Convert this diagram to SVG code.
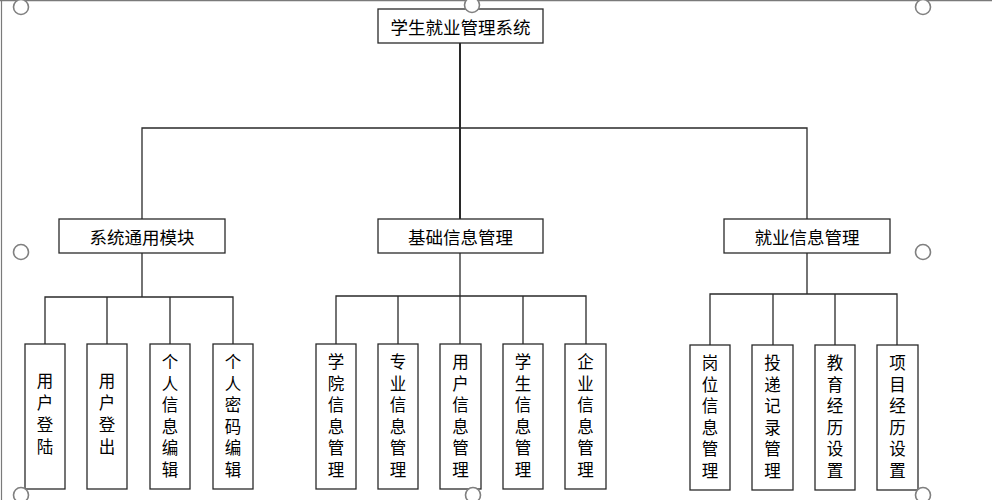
<svg xmlns="http://www.w3.org/2000/svg" width="992" height="500" viewBox="0 0 992 500">
<defs>
<style>
.box{fill:#fff;stroke:#2a2a2a;stroke-width:1.3}
.lbl{font-family:"Noto Sans CJK SC","Noto Sans",sans-serif;font-size:17.5px;fill:#000;text-anchor:middle;dominant-baseline:central}
.vl{font-family:"Noto Sans CJK SC","Noto Sans",sans-serif;font-size:16.5px;fill:#000;text-anchor:middle;dominant-baseline:central;writing-mode:vertical-rl;text-orientation:upright;letter-spacing:5px}
.v4{letter-spacing:5.5px}
.con{fill:none;stroke:#2a2a2a;stroke-width:1.3}
.handle{fill:#fff;stroke:#808080;stroke-width:1.6}
.frame{fill:none;stroke:#7a7a7a;stroke-width:1.2}
</style>
</defs>
<rect width="992" height="500" fill="#fff"/>
<g id="frame">
<line class="frame" x1="0" y1="0.6" x2="992" y2="0.6"/>
<line class="frame" x1="1.5" y1="0" x2="1.5" y2="500"/>
</g>
<g id="connectors">
<path class="con" d="M460 43 V219" style="stroke-width:1.8;stroke:#111"/>
<path class="con" d="M142 219 V128 H807 V219"/>
<path class="con" d="M142 253 V297 M45 344 V297 H233 V344 M107 297 V344 M170 297 V344"/>
<path class="con" d="M460 253 V296 M336 344 V296 H586 V344 M398 296 V344 M460 296 V344 M523 296 V344"/>
<path class="con" d="M807 253 V294 M710 345 V294 H897 V345 M773 294 V345 M835 294 V345"/>
</g>
<g id="root"><rect class="box" x="378" y="9" width="165" height="34"/><text class="lbl" x="460.5" y="26">学生就业管理系统</text></g>
<g id="m1"><rect class="box" x="59" y="219" width="166" height="34"/><text class="lbl" x="142" y="236">系统通用模块</text></g>
<g id="m2"><rect class="box" x="378" y="219" width="165" height="34"/><text class="lbl" x="460.5" y="236">基础信息管理</text></g>
<g id="m3"><rect class="box" x="724" y="219" width="166" height="34"/><text class="lbl" x="807" y="236">就业信息管理</text></g>

<g id="l1"><rect class="box" x="25" y="344" width="40" height="145"/><text class="vl v4" x="45" y="416.5">用户登陆</text></g>
<g id="l2"><rect class="box" x="87" y="344" width="40" height="145"/><text class="vl v4" x="107" y="416.5">用户登出</text></g>
<g id="l3"><rect class="box" x="150" y="344" width="40" height="145"/><text class="vl" x="170" y="418">个人信息编辑</text></g>
<g id="l4"><rect class="box" x="213" y="344" width="40" height="145"/><text class="vl" x="233" y="418">个人密码编辑</text></g>

<g id="l5"><rect class="box" x="316" y="344" width="40" height="145"/><text class="vl" x="336" y="418">学院信息管理</text></g>
<g id="l6"><rect class="box" x="378" y="344" width="40" height="145"/><text class="vl" x="398" y="418">专业信息管理</text></g>
<g id="l7"><rect class="box" x="440" y="344" width="41" height="145"/><text class="vl" x="460.5" y="418">用户信息管理</text></g>
<g id="l8"><rect class="box" x="503" y="344" width="40" height="145"/><text class="vl" x="523" y="418">学生信息管理</text></g>
<g id="l9"><rect class="box" x="565" y="344" width="41" height="145"/><text class="vl" x="585.5" y="418">企业信息管理</text></g>

<g id="l10"><rect class="box" x="690" y="345" width="40" height="145"/><text class="vl" x="710" y="419">岗位信息管理</text></g>
<g id="l11"><rect class="box" x="752" y="345" width="41" height="145"/><text class="vl" x="772.5" y="419">投递记录管理</text></g>
<g id="l12"><rect class="box" x="815" y="345" width="40" height="145"/><text class="vl" x="835" y="419">教育经历设置</text></g>
<g id="l13"><rect class="box" x="877" y="345" width="41" height="145"/><text class="vl" x="897.5" y="419">项目经历设置</text></g>

<g id="handles">
<circle class="handle" cx="21" cy="7" r="7.5"/>
<circle class="handle" cx="472" cy="5" r="7.5"/>
<circle class="handle" cx="923" cy="7" r="7.5"/>
<circle class="handle" cx="21" cy="252" r="7.5"/>
<circle class="handle" cx="923" cy="252" r="7.5"/>
<circle class="handle" cx="21" cy="495" r="7.5"/>
<circle class="handle" cx="473" cy="495" r="7.5"/>
<circle class="handle" cx="923" cy="495" r="7.5"/>
</g>
</svg>
